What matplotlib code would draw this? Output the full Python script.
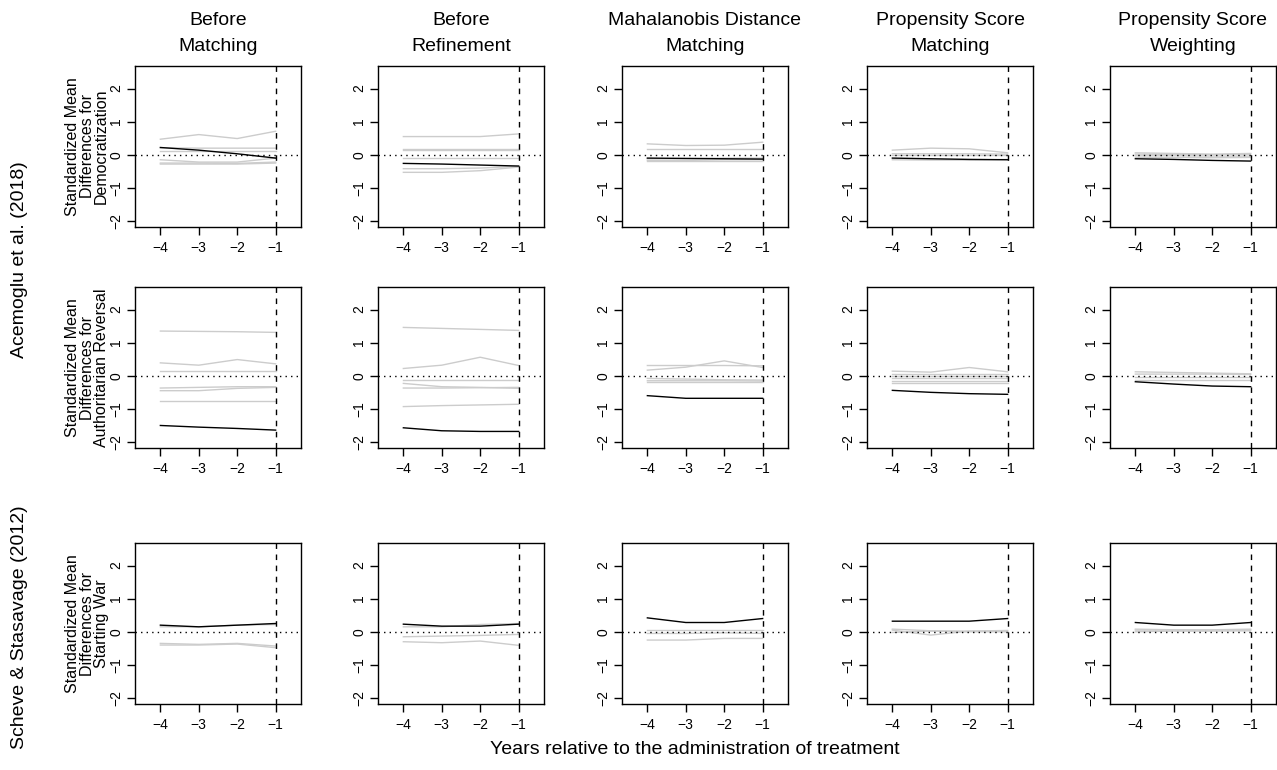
import matplotlib
matplotlib.use("Agg")
import matplotlib.pyplot as plt

plt.rcParams['font.family'] = ['Liberation Sans', 'DejaVu Sans']

years = [-4, -3, -2, -1]
methods = ["Before\nMatching", "Before\nRefinement", "Mahalanobis Distance\nMatching",
           "Propensity Score\nMatching", "Propensity Score\nWeighting"]
outcomes = ["Standardized Mean\nDifferences for\nDemocratization",
            "Standardized Mean\nDifferences for\nAuthoritarian Reversal",
            "Standardized Mean\nDifferences for\nStarting War"]
studies = ["Acemoglu et al. (2018)", "Scheve & Stasavage (2012)"]
xlabel = "Years relative to the administration of treatment"

# Democratization: covariate balance (gray) and lagged outcome (black)
dem_gray = [
    [[0.47, 0.61, 0.49, 0.71], [0.21, 0.20, 0.20, 0.20], [0.12, 0.12, 0.12, 0.12],
     [-0.15, -0.22, -0.22, -0.10], [-0.25, -0.25, -0.26, -0.22], [-0.28, -0.28, -0.28, -0.25]],
    [[0.55, 0.55, 0.55, 0.63], [0.18, 0.18, 0.18, 0.18], [0.13, 0.13, 0.13, 0.13],
     [-0.10, -0.10, -0.10, -0.10], [-0.42, -0.42, -0.40, -0.35], [-0.53, -0.53, -0.48, -0.37]],
    [[0.33, 0.28, 0.29, 0.38], [0.18, 0.18, 0.18, 0.18], [-0.12, -0.12, -0.10, -0.10],
     [-0.17, -0.17, -0.15, -0.15], [-0.20, -0.20, -0.20, -0.20]],
    [[0.14, 0.20, 0.18, 0.06], [0.03, 0.03, 0.03, 0.02], [-0.02, -0.02, -0.02, -0.02],
     [-0.15, -0.16, -0.16, -0.14]],
    [[0.06, 0.04, 0.02, 0.04], [0.02, 0.01, 0.00, 0.01], [-0.03, -0.03, -0.04, -0.04],
     [-0.08, -0.08, -0.09, -0.08]],
]
dem_black = [
    [0.22, 0.14, 0.03, -0.10],
    [-0.26, -0.28, -0.31, -0.34],
    [-0.10, -0.11, -0.12, -0.13],
    [-0.10, -0.12, -0.14, -0.15],
    [-0.12, -0.14, -0.17, -0.19],
]

# Authoritarian reversal
aut_gray = [
    [[1.35, 1.34, 1.33, 1.31], [0.39, 0.32, 0.49, 0.36], [0.15, 0.15, 0.15, 0.15],
     [-0.37, -0.35, -0.33, -0.33], [-0.45, -0.45, -0.38, -0.35], [-0.76, -0.76, -0.76, -0.76]],
    [[1.46, 1.43, 1.40, 1.37], [0.22, 0.32, 0.56, 0.31], [-0.12, -0.12, -0.12, -0.12],
     [-0.23, -0.33, -0.35, -0.38], [-0.37, -0.37, -0.36, -0.35], [-0.93, -0.90, -0.88, -0.86]],
    [[0.31, 0.31, 0.31, 0.30], [0.17, 0.26, 0.45, 0.25], [-0.08, -0.10, -0.12, -0.13],
     [-0.15, -0.15, -0.15, -0.16], [-0.19, -0.19, -0.19, -0.19]],
    [[0.14, 0.11, 0.25, 0.12], [0.06, 0.06, 0.06, 0.06], [0.00, 0.00, 0.00, 0.00],
     [-0.08, -0.08, -0.08, -0.08], [-0.15, -0.15, -0.15, -0.15], [-0.22, -0.22, -0.22, -0.22]],
    [[0.12, 0.10, 0.08, 0.06], [0.05, 0.05, 0.05, 0.04], [-0.03, -0.03, -0.03, -0.03],
     [-0.12, -0.12, -0.12, -0.12]],
]
aut_black = [
    [-1.50, -1.55, -1.59, -1.64],
    [-1.57, -1.66, -1.68, -1.68],
    [-0.60, -0.68, -0.68, -0.68],
    [-0.44, -0.50, -0.54, -0.56],
    [-0.18, -0.25, -0.31, -0.33],
]

# Starting war
war_gray = [
    [[0.15, 0.15, 0.20, 0.22], [-0.35, -0.38, -0.35, -0.43], [-0.40, -0.40, -0.37, -0.48]],
    [[0.15, 0.15, 0.22, 0.25], [-0.15, -0.13, -0.11, -0.08], [-0.30, -0.33, -0.28, -0.41]],
    [[0.05, 0.05, 0.05, 0.05], [-0.05, -0.05, -0.03, -0.05], [-0.25, -0.25, -0.20, -0.20]],
    [[0.05, -0.10, 0.02, 0.02], [-0.02, 0.02, 0.00, 0.00], [0.08, 0.03, 0.02, 0.04]],
    [[0.05, 0.05, 0.05, 0.06], [0.00, 0.02, 0.02, 0.03], [0.08, 0.06, 0.06, 0.08]],
]
war_black = [
    [0.20, 0.15, 0.20, 0.25],
    [0.23, 0.17, 0.17, 0.23],
    [0.42, 0.28, 0.28, 0.40],
    [0.32, 0.32, 0.32, 0.40],
    [0.28, 0.20, 0.20, 0.28],
]

gray_rows = [dem_gray, aut_gray, war_gray]
black_rows = [dem_black, aut_black, war_black]

W, H = 1277, 770
fig = plt.figure(figsize=(W / 100, H / 100), dpi=100)

col_left = [135, 378, 622, 867, 1110]
row_top = [66, 287, 543]
aw, ah = 166, 161

for r in range(3):
    for c in range(5):
        l, t = col_left[c], row_top[r]
        ax = fig.add_axes([l / W, (H - t - ah) / H, aw / W, ah / H])
        for g in gray_rows[r][c]:
            ax.plot(years, g, color='#cccccc', lw=1.0)
        ax.plot(years, black_rows[r][c], color='black', lw=1.0)
        ax.axhline(0, color='black', lw=1.0, ls=(0, (1, 3)))
        ax.axvline(-1, color='black', lw=1.0, ls=(0, (4, 4)))
        ax.set_xlim(-4.66, -0.34)
        ax.set_ylim(-2.18, 2.68)
        ax.set_xticks(years)
        ax.set_yticks([-2, -1, 0, 1, 2])
        ax.set_yticklabels(['\u22122', '\u22121', '0', '1', '2'], rotation=90, va='center')
        ax.set_xticklabels(['\u22124', '\u22123', '\u22122', '\u22121'])
        ax.tick_params(direction='out', length=6, width=1.0, labelsize=10, pad=4)
        ax.tick_params(axis='y', pad=2.5)
        for s in ax.spines.values():
            s.set_linewidth(1.0)
        if r == 0:
            fig.text((l + aw / 2) / W, 1 - 12 / H, methods[c], ha='center', va='top',
                     fontsize=14, linespacing=1.7)
        if c == 0:
            fig.text(87 / W, 1 - (t + ah / 2) / H, outcomes[r], rotation=90,
                     ha='center', va='center', fontsize=11.5, linespacing=0.95)

fig.text(20 / W, 1 - 260 / H, studies[0], rotation=90, ha='center', va='center', fontsize=14)
fig.text(20 / W, 1 - 627 / H, studies[1], rotation=90, ha='center', va='center', fontsize=14)
fig.text(695 / W, 1 - 750 / H, xlabel, ha='center', va='center', fontsize=14)

fig.savefig('out.png', dpi=100)
